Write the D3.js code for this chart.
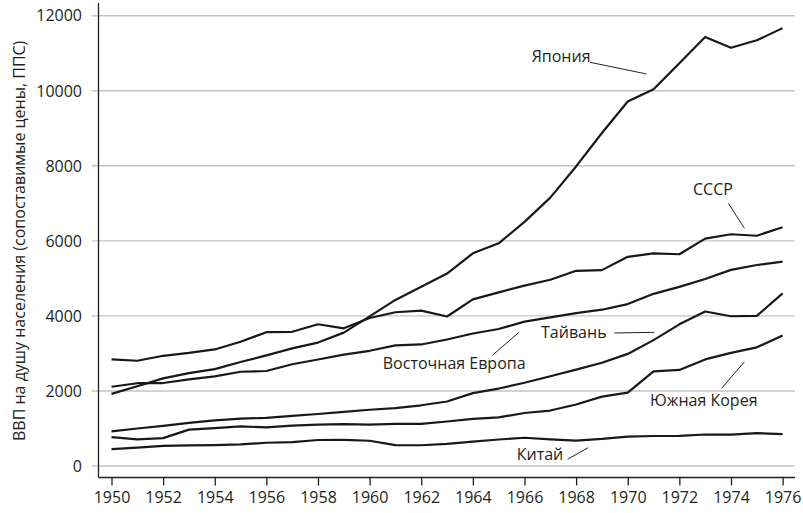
<!DOCTYPE html>
<html>
<head>
<meta charset="utf-8">
<script src="https://cdn.jsdelivr.net/npm/d3@7"></script>
<style>
  body { margin: 0; background: #fff; }
  text { font-family: "Open Sans", sans-serif; fill: #231f20; }
</style>
</head>
<body>
<div id="chart-area"></div>
<script>
// data (GDP per capita, PPP)
var years = d3.range(1950, 1977);
var japan = [1921, 2126, 2336, 2474, 2582, 2771, 2948, 3136, 3289, 3554, 3986, 4426, 4777, 5129, 5668, 5934, 6506, 7152, 7983, 8874, 9714, 10040, 10734, 11434, 11145, 11344, 11669];
var ussr = [2841, 2805, 2937, 3013, 3106, 3313, 3566, 3576, 3777, 3669, 3945, 4098, 4140, 3985, 4439, 4626, 4806, 4963, 5202, 5220, 5575, 5665, 5643, 6059, 6176, 6136, 6363];
var eastEurope = [2111, 2206, 2211, 2307, 2389, 2511, 2531, 2711, 2839, 2966, 3070, 3216, 3239, 3372, 3532, 3651, 3848, 3961, 4076, 4165, 4315, 4588, 4774, 4985, 5227, 5357, 5445];
var taiwan = [924, 1000, 1070, 1151, 1214, 1260, 1283, 1336, 1386, 1440, 1499, 1541, 1618, 1718, 1941, 2064, 2218, 2393, 2568, 2752, 2987, 3355, 3775, 4117, 3990, 3999, 4600];
var korea = [770, 709, 743, 970, 1010, 1054, 1029, 1077, 1102, 1114, 1105, 1124, 1122, 1186, 1254, 1295, 1413, 1478, 1639, 1849, 1954, 2522, 2561, 2840, 3015, 3162, 3476];
var china = [448, 491, 538, 552, 556, 575, 619, 637, 693, 697, 673, 557, 553, 592, 648, 706, 753, 712, 678, 722, 783, 799, 802, 839, 836, 874, 852];
var yTicks = [0, 2000, 4000, 6000, 8000, 10000, 12000];
var xTicks = d3.range(1950, 1977, 2);
var seriesNames = ["Япония", "СССР", "Восточная Европа", "Тайвань", "Южная Корея", "Китай"];
var yTitle = "ВВП на душу населения (сопоставимые цены, ППС)";

var series = [japan, ussr, eastEurope, taiwan, korea, china];

// label placement, in chart units: [textYear, textValue, anchor, fromYear, fromValue, toYear, toValue]
var notes = [
	[1966.28, 10766, "start", 1968.54, 10758, 1970.73, 10447],
	[1972.53, 7222, "start", 1973.90, 7001, 1974.52, 6334],
	[1960.51, 2598, "start", 1964.77, 2958, 1965.79, 3563],
	[1969.18, 3411, "end", 1969.48, 3544, 1971.03, 3563],
	[1970.86, 1612, "start", 1973.64, 2071, 1974.52, 2779],
	[1965.70, 147, "start", 1967.67, 179, 1968.47, 488]
];

var completeWidth = 803,
	completeHeight = 513;

var svg = d3.select("#chart-area")
	.append("svg")
		.attr("width", completeWidth)
		.attr("height", completeHeight);

// Scales
var x = d3.scaleLinear()
	.domain([1950, 1976])
	.range([111.5, 782.6]);
var y = d3.scaleLinear()
	.domain([0, 12000])
	.range([466, 15.7]);

var axisLeftX = 98.5,
	axisBottomY = 477.5,
	gridRight = 795;

// gridlines + grey ticks
svg.append("g")
	.selectAll("line")
	.data(yTicks)
	.enter().append("line")
		.attr("x1", axisLeftX - 7)
		.attr("x2", gridRight)
		.attr("y1", d => y(d))
		.attr("y2", d => y(d))
		.attr("stroke", "#c4c4c4")
		.attr("stroke-width", 1.4);

// y labels
svg.append("g")
	.selectAll("text")
	.data(yTicks)
	.enter().append("text")
		.attr("x", 82)
		.attr("y", d => y(d))
		.attr("dy", "0.36em")
		.attr("text-anchor", "end")
		.attr("font-size", "16px")
		.text(d => d);

// axis lines
svg.append("line")
	.attr("x1", axisLeftX).attr("x2", axisLeftX)
	.attr("y1", 3).attr("y2", axisBottomY)
	.attr("stroke", "#231f20").attr("stroke-width", 1.3);
svg.append("line")
	.attr("x1", axisLeftX).attr("x2", gridRight)
	.attr("y1", axisBottomY).attr("y2", axisBottomY)
	.attr("stroke", "#231f20").attr("stroke-width", 1.3);

// x axis ticks and labels
var xAxisCall = d3.axisBottom(x)
	.tickValues(xTicks)
	.tickFormat(d3.format("d"))
	.tickSize(8)
	.tickSizeOuter(0);
var xAxis = svg.append("g")
	.attr("transform", "translate(0," + axisBottomY + ")")
	.call(xAxisCall);
xAxis.select(".domain").remove();
xAxis.selectAll(".tick line").attr("stroke", "#231f20").attr("stroke-width", 1.3);
xAxis.selectAll(".tick text")
	.attr("font-family", "Open Sans, sans-serif")
	.attr("font-size", "16px")
	.attr("fill", "#231f20")
	.attr("y", 14);

// y title
svg.append("text")
	.attr("transform", "translate(25," + y(6000) + ") rotate(-90)")
	.attr("text-anchor", "middle")
	.attr("font-size", "16px")
	.text(yTitle);

// lines
var line = d3.line()
	.x((d, i) => x(years[i]))
	.y(d => y(d));

svg.append("g")
	.selectAll("path")
	.data(series)
	.enter().append("path")
		.attr("d", line)
		.attr("fill", "none")
		.attr("stroke", "#1a1718")
		.attr("stroke-width", 2.2)
		.attr("stroke-linejoin", "round");

// labels with pointer lines
notes.forEach(function(n, i) {
	svg.append("text")
		.attr("x", x(n[0]))
		.attr("y", y(n[1]))
		.attr("text-anchor", n[2])
		.attr("font-size", "16px")
		.text(seriesNames[i]);
	svg.append("line")
		.attr("x1", x(n[3])).attr("y1", y(n[4]))
		.attr("x2", x(n[5])).attr("y2", y(n[6]))
		.attr("stroke", "#231f20")
		.attr("stroke-width", 1);
});
</script>
</body>
</html>
